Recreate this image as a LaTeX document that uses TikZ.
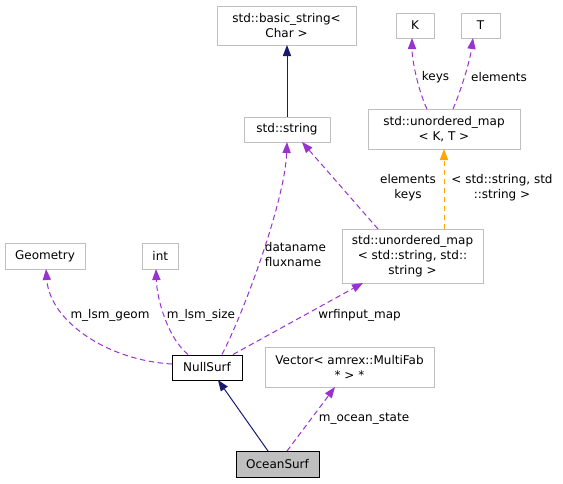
\documentclass[tikz,border=0pt]{standalone}
\usepackage{fontspec}
\setmainfont{DejaVu Sans}
\usetikzlibrary{arrows.meta}
\definecolor{boxgray}{HTML}{BFBFBF}
\definecolor{edgepurple}{HTML}{9A32CD}
\definecolor{edgenavy}{HTML}{191970}
\definecolor{edgeorange}{HTML}{FFA500}
\tikzset{
  cls/.style={draw=boxgray, line width=1pt, rectangle, inner sep=0pt, align=center, font=\fontsize{12}{15}\selectfont},
  mainbox/.style={cls, draw=black},
  usage/.style={draw=edgepurple, line width=1pt, dash pattern=on 5.5pt off 3.5pt, -{Triangle[length=11pt,width=8.5pt,fill=edgepurple,line width=0pt]}},
  inherit/.style={draw=edgenavy, line width=1pt, -{Triangle[length=11pt,width=8.5pt,fill=edgenavy,line width=0pt]}},
  templ/.style={draw=edgeorange, line width=1pt, dash pattern=on 5.5pt off 3.5pt, -{Triangle[length=11pt,width=8.5pt,fill=edgeorange,line width=0pt]}},
  lbl/.style={inner sep=0pt, align=center, font=\fontsize{12}{15}\selectfont},
}
\begin{document}
\begin{tikzpicture}[x=1pt,y=-1pt]
\useasboundingbox (0,0) rectangle (563,483);
% nodes
\node[cls, minimum width=139pt, minimum height=39pt] (bs) at (286.5,25.5) {std::basic\_string<\\Char >};
\node[cls, minimum width=38pt, minimum height=25pt] (K) at (415,25.5) {K};
\node[cls, minimum width=39pt, minimum height=25pt] (T) at (480.5,25.5) {T};
\node[cls, minimum width=86pt, minimum height=25pt] (str) at (287,129.5) {std::string};
\node[cls, minimum width=152pt, minimum height=40pt] (umKT) at (444,129) {std::unordered\_map\\< K, T >};
\node[cls, minimum width=80pt, minimum height=26pt] (geom) at (45,256) {Geometry};
\node[cls, minimum width=36pt, minimum height=26pt] (int) at (160.3,256) {int};
\node[cls, minimum width=141pt, minimum height=54pt] (umSS) at (412.5,256) {std::unordered\_map\\< std::string, std::\\string >};
\node[mainbox, minimum width=70pt, minimum height=25pt] (null) at (207,367.5) {NullSurf};
\node[cls, minimum width=169pt, minimum height=40pt] (vec) at (349.5,367) {Vector< amrex::MultiFab\\* > *};
\node[mainbox, fill=boxgray, minimum width=83pt, minimum height=26pt] (ocean) at (277.5,464) {OceanSurf};
% anchor coordinates
\coordinate (nullW) at (172,364);
\coordinate (nullA) at (188,354.5);
\coordinate (nullB) at (222,354.5);
\coordinate (nullC) at (233,354.5);
\coordinate (geomS) at (46,269);
\coordinate (intS) at (156,269);
\coordinate (strS) at (287,142);
\coordinate (strSE) at (302,142);
\coordinate (umSSN) at (378,229);
\coordinate (umSSNE) at (444,229);
\coordinate (umSSSW) at (363,283);
\coordinate (umKTS) at (444,149);
\coordinate (umKTa) at (427,109);
\coordinate (umKTb) at (453,109);
\coordinate (KS) at (412,38);
\coordinate (TS) at (473,38);
\coordinate (strN) at (287,117);
\coordinate (bsS) at (287,45);
\coordinate (oceanA) at (268,451);
\coordinate (oceanB) at (287,451);
\coordinate (nullS) at (218,380);
\coordinate (vecS) at (335,387);
% edges
\draw[inherit] (strN) -- (bsS);
\draw[usage] (umKTa) .. controls (418,90) and (412,60) .. (KS);
\draw[usage] (umKTb) .. controls (462,88) and (470,60) .. (TS);
\draw[usage] (umSSN) -- (strSE);
\draw[templ] (umSSNE) -- (umKTS);
\draw[usage] (nullB) .. controls (245,310) and (285,200) .. (strS);
\draw[usage] (nullW) .. controls (105,360) and (50,320) .. (geomS);
\draw[usage] (nullA) .. controls (168,338) and (157,300) .. (intS);
\draw[usage] (nullC) -- (umSSSW);
\draw[inherit] (oceanA) -- (nullS);
\draw[usage] (oceanB) -- (vecS);
% labels
\node[lbl] (lkeys) at (435.5,77) {keys};
\node[lbl] (lelem) at (499,77) {elements};
\node[lbl] (lek) at (408,188) {elements\\keys};
\node[lbl] (ltempl) at (502,188) {< std::string, std\\::string >};
\node[lbl, align=left, anchor=west] (ldf) at (264.7,254.5) {dataname\\fluxname};
\node[lbl] (lgeom) at (110,315) {m\_lsm\_geom};
\node[lbl] (lsize) at (201,315) {m\_lsm\_size};
\node[lbl] (lwrf) at (359.5,315) {wrfinput\_map};
\node[lbl] (locean) at (364,418.7) {m\_ocean\_state};
\end{tikzpicture}
\end{document}
